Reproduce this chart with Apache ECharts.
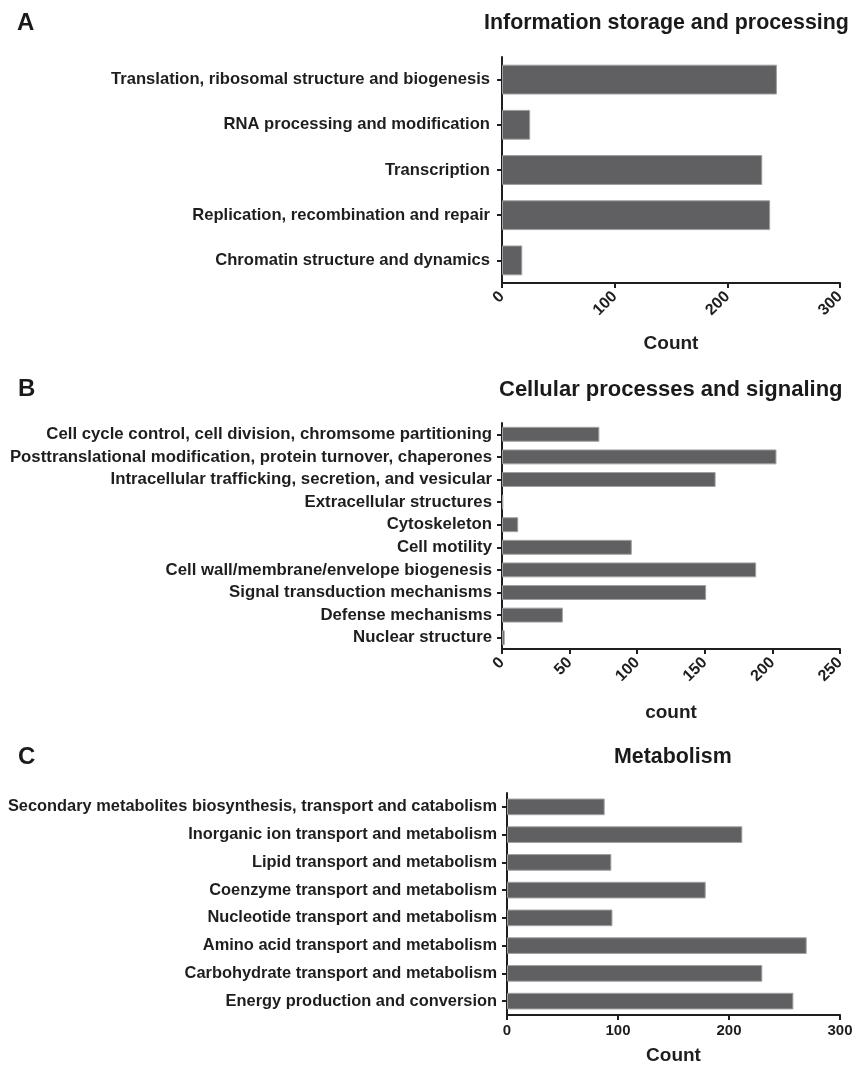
<!DOCTYPE html>
<html><head><meta charset="utf-8">
<script src="https://cdn.jsdelivr.net/npm/echarts@6/dist/echarts.min.js"></script>
<style>html,body{margin:0;padding:0;background:#fff}#c{width:862px;height:1068px}</style>
</head><body><div id="c"></div>
<script>
const catsA = ['Translation, ribosomal structure and biogenesis','RNA processing and modification','Transcription','Replication, recombination and repair','Chromatin structure and dynamics'];
const valsA = [244, 25, 231, 238, 18];
const catsB = ['Cell cycle control, cell division, chromsome partitioning','Posttranslational modification, protein turnover, chaperones','Intracellular trafficking, secretion, and vesicular','Extracellular structures','Cytoskeleton','Cell motility','Cell wall/membrane/envelope biogenesis','Signal transduction mechanisms','Defense mechanisms','Nuclear structure'];
const valsB = [72, 203, 158, 1, 12, 96, 188, 151, 45, 2];
const catsC = ['Secondary metabolites biosynthesis, transport and catabolism','Inorganic ion transport and metabolism','Lipid transport and metabolism','Coenzyme transport and metabolism','Nucleotide transport and metabolism','Amino acid transport and metabolism','Carbohydrate transport and metabolism','Energy production and conversion'];
const valsC = [88, 212, 94, 179, 95, 270, 230, 258];
const titles = ['Information storage and processing','Cellular processes and signaling','Metabolism'];
const panelLetters = ['A','B','C'];
const axisNames = ['Count','count','Count'];

const chart = echarts.init(document.getElementById('c'));
const F = '"Liberation Sans", Arial, sans-serif';
const INK = '#1e1e1e';
const axisLine = {show:true, lineStyle:{color:INK, width:2}};
const axisTick = {show:true, length:5, lineStyle:{color:INK, width:2}};
function xAxis(i, max, interval, rotate, gap, fs){
  return {type:'value', gridIndex:i, min:0, max:max, interval:interval,
    splitLine:{show:false}, axisLine:axisLine, axisTick:axisTick,
    axisLabel:{rotate:rotate, color:INK, fontFamily:F, fontWeight:'bold', fontSize:fs, margin:rotate?11:8},
    name:axisNames[i], nameLocation:'middle', nameGap:gap,
    nameTextStyle:{color:INK, fontFamily:F, fontWeight:'bold', fontSize:19}};
}
function yAxis(i, cats, fs, margin){
  return {type:'category', gridIndex:i, data:cats, inverse:true,
    axisLine:axisLine, axisTick:{show:true, length:5, alignWithLabel:true, lineStyle:{color:INK, width:2}},
    axisLabel:{color:INK, fontFamily:F, fontWeight:'bold', fontSize:fs, margin:margin}};
}
const barStyle = {color:'#606062', borderColor:'#a0a0a2', borderWidth:1};
function txt(s, x, y, fs, align){
  return {type:'text', x:x, y:y, style:{text:s, fontFamily:F, fontWeight:'bold', fontSize:fs, fill:'#1a1a1a', align:align||'left', verticalAlign:'middle'}};
}
chart.setOption({
  animation:false,
  grid:[
    {left:502, top:57, width:338, height:226},
    {left:502, top:423, width:338, height:226},
    {left:507, top:793, width:333, height:222}
  ],
  xAxis:[xAxis(0,300,100,45,51,16), xAxis(1,250,50,45,54,16), xAxis(2,300,100,0,31,15)],
  yAxis:[yAxis(0,catsA,16.6,12), yAxis(1,catsB,16.8,10), yAxis(2,catsC,16.4,10)],
  series:[
    {type:'bar', xAxisIndex:0, yAxisIndex:0, data:valsA, barWidth:'66%', itemStyle:barStyle},
    {type:'bar', xAxisIndex:1, yAxisIndex:1, data:valsB, barWidth:'66%', itemStyle:barStyle},
    {type:'bar', xAxisIndex:2, yAxisIndex:2, data:valsC, barWidth:'60%', itemStyle:barStyle}
  ],
  graphic:[
    txt(panelLetters[0], 17, 23, 24),
    txt(panelLetters[1], 18, 389, 24),
    txt(panelLetters[2], 18, 757, 24),
    txt(titles[0], 484, 23, 21.4),
    txt(titles[1], 499, 390, 22),
    txt(titles[2], 614, 757, 21.4)
  ]
});
</script></body></html>
